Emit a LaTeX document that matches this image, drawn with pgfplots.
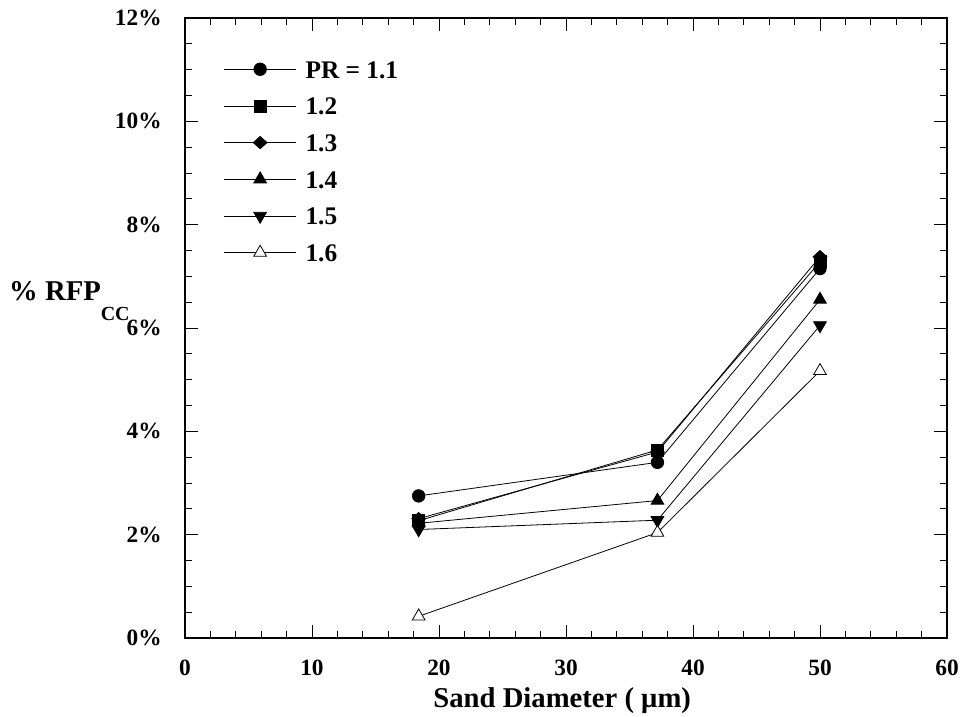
\documentclass[border=0pt]{standalone}
\usepackage{fontspec}
\setmainfont{Liberation Serif}
\usepackage{pgfplots}
\usetikzlibrary{calc}
\pgfplotsset{compat=1.18}
\newcommand{\lblfont}{\bfseries\fontsize{17.5}{20}\selectfont}%
\newcommand{\legfont}{\bfseries\fontsize{19}{22}\selectfont}%
\newcommand{\axfont}{\bfseries\fontsize{21.5}{24}\selectfont}%
\begin{document}%
\begin{tikzpicture}
\begin{axis}[
  scale only axis, width=571.5pt, height=465pt,
  xmin=0, xmax=60, ymin=0, ymax=12,
  xtick={0,10,...,60}, ytick={0,2,...,12},
  minor x tick num=4, minor y tick num=3,
  tick align=inside, xtick pos=both, ytick pos=both,
  major tick length=10pt, minor tick length=5.5pt,
  every tick/.style={black, line width=0.7pt},
  axis line style={line width=1.3pt},
  /pgf/number format/assume math mode=true,
  ticklabel style={font=\lblfont},
  xticklabel style={yshift=-13pt},
  yticklabel style={xshift=-14pt},
  yticklabel={\pgfmathprintnumber{\tick}\%},
  xlabel={Sand Diameter ( μm)},
  every axis x label/.style={at={(axis description cs:0.495,0)}, anchor=base, yshift=-52.5pt, font=\axfont},
  ylabel={\%\hspace{0.25em}RFP\raisebox{-15pt}{\fontsize{15}{16}\selectfont CC}},
  every axis y label/.style={at={(axis description cs:-0.2310,0.545)}, anchor=base west, inner sep=0pt, font=\axfont},
  legend image code/.code={\draw[mark repeat=2,mark phase=2,yshift=6.75pt,#1] plot coordinates {(0pt,0pt) (27pt,0pt) (54pt,0pt)}; \path (0pt,6.75pt) (60.75pt,6.75pt);},
  legend style={at={(axis description cs:0.0505,0.9312)}, anchor=north west, draw=none, fill=none,
    font=\legfont, inner sep=0pt, column sep=0pt, row sep=14.5pt,
    nodes={inner sep=0pt, text height=13pt, text depth=0pt, anchor=base west}},
  legend cell align=left,
  every axis plot/.append style={black, line width=0.6pt},
]
\addplot[mark=*, mark size=4.7pt] coordinates {(18.4,2.75) (37.2,3.40) (50,7.15)};
\addlegendentry{PR = 1.1}
\addplot[mark=square*, mark size=4.5pt] coordinates {(18.4,2.27) (37.2,3.64) (50,7.28)};
\addlegendentry{1.2}
\addplot[mark=diamond*, mark size=4.6pt, mark options={xscale=1.5}] coordinates {(18.4,2.31) (37.2,3.60) (50,7.38)};
\addlegendentry{1.3}
\addplot[mark=triangle*, mark size=5.5pt] coordinates {(18.4,2.22) (37.2,2.66) (50,6.55)};
\addlegendentry{1.4}
\addplot[mark=triangle*, mark size=5.5pt, mark options={rotate=180}] coordinates {(18.4,2.10) (37.2,2.28) (50,6.05)};
\addlegendentry{1.5}
\addplot[mark=triangle*, mark size=5.5pt, mark options={fill=white}] coordinates {(18.4,0.42) (37.2,2.04) (50,5.17)};
\addlegendentry{1.6}
\coordinate (o) at (rel axis cs:0,0);
\end{axis}
\pgfresetboundingbox
\path[use as bounding box] ($(o)+(-138.75pt,-59.25pt)$) rectangle ($(o)+(584.25pt,478.5pt)$);
\end{tikzpicture}%
\end{document}
